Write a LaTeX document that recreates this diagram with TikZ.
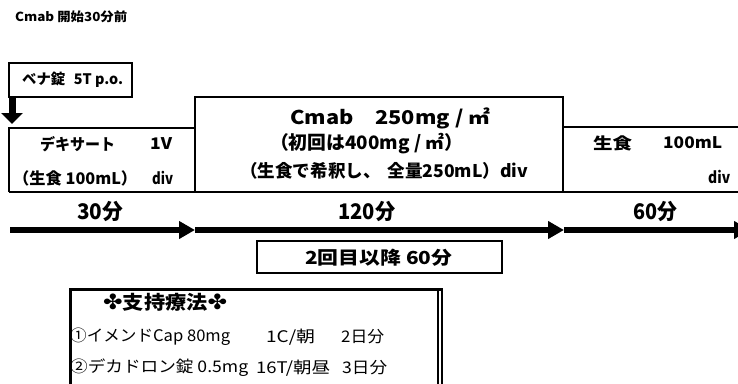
\documentclass[tikz,border=0pt]{standalone}
\usepackage{fontspec}
\setmainfont{Noto Sans CJK JP}
\newfontfamily\symfont{DejaVu Sans}
\usetikzlibrary{arrows.meta}
\newcommand{\fitw}[2]{\resizebox{#1pt}{\height}{#2}}
\newcommand{\crs}{{\symfont\fontsize{21}{21}\selectfont ✤}}
\tikzset{
  txt/.style={inner sep=0pt, font=\bfseries\fontsize{#1}{#1}\selectfont},
  txt/.default=16,
  rtxt/.style={inner sep=0pt, anchor=west, font=\fontsize{16}{16}\selectfont},
  frame/.style={line width=2.6pt, line join=miter},
  tline/.style={line width=5.5pt, -{Triangle[length=16pt,width=17pt]}},
}
\begin{document}
\begin{tikzpicture}[x=1pt,y=-1pt]
\useasboundingbox (0,0) rectangle (738,383);
% header
\node[txt=12.5, anchor=west] (hdr) at (15,17) {\fitw{112}{Cmab 開始30分前}};
% bena box
\draw[frame] (9,63) rectangle (132,97);
\node[txt=14.5, anchor=west] (bena) at (22,80) {\fitw{101}{ベナ錠\hspace{0.6em}5T p.o.}};
\coordinate (ba) at (12,98);
\coordinate (bb) at (12,124);
\draw[line width=7pt, -{Triangle[length=11pt,width=21pt]}] (ba) -- (bb);
% stepped frame
\coordinate (p1) at (9,128);
\coordinate (p2) at (195,128);
\coordinate (p3) at (195,97);
\coordinate (p4) at (563,97);
\coordinate (p5) at (563,127);
\coordinate (p6) at (738,127);
\coordinate (q1) at (9,192);
\coordinate (q2) at (195,192);
\coordinate (q3) at (563,192);
\coordinate (q4) at (738,192);
\draw[frame] (q1) -- (p1) -- (p2);
\draw[frame] (q2) -- (p3) -- (p4) -- (q3);
\draw[frame] (p5) -- (p6);
\draw[frame] (q1) -- (q4);
% left box texts
\node[txt, anchor=west] (dx) at (40,144) {\fitw{75}{デキサート}};
\node[txt, anchor=west] (dxv) at (150,144) {\fitw{22}{1V}};
\node[txt, anchor=west] (dxs) at (13,178) {\fitw{124}{（生食 100mL）}};
\node[txt, anchor=west] (dxd) at (152,178) {\fitw{21}{div}};
% middle texts
\node[txt=19, anchor=west] (c1) at (290,118) {\fitw{200}{Cmab\hspace{1em}250mg / ㎡}};
\node[txt=18.5, anchor=west] (c2) at (270,144) {\fitw{193}{（初回は400mg / ㎡）}};
\node[txt=17.5, anchor=west] (c3) at (240,171) {\fitw{288}{（生食で希釈し、\hspace{0.4em}全量250mL）div}};
% right texts
\node[txt, anchor=west] (s1) at (593,143) {\fitw{39}{生食}};
\node[txt, anchor=west] (s2) at (663,143) {\fitw{59}{100mL}};
\node[txt, anchor=west] (s3) at (708,177) {\fitw{22}{div}};
% timeline
\coordinate (t0) at (10,230);
\coordinate (t1) at (195,230);
\coordinate (t2) at (564,230);
\coordinate (t3) at (750,230);
\draw[tline] (t0) -- (t1);
\draw[tline] (t1) -- (t2);
\draw[tline] (t2) -- (t3);
\node[txt=21.5, anchor=west] (l1) at (77,211) {\fitw{46}{30分}};
\node[txt=21.5, anchor=west] (l2) at (338,211) {\fitw{57}{120分}};
\node[txt=21.5, anchor=west] (l3) at (633,211) {\fitw{44}{60分}};
% 2nd time box
\draw[line width=2.4pt] (257,241) rectangle (502,273);
\node[txt=18, anchor=west] (sec) at (305,258) {\fitw{147}{2回目以降 60分}};
% support box
\draw[line width=3pt] (70,390) -- (70,289) -- (443,289);
\draw[line width=1.4pt] (438,289) -- (438,390);
\draw[line width=1.4pt] (442,289) -- (442,390);
\node[txt=19, anchor=west] (st) at (103,302) {\fitw{124}{\crs 支持療法\crs}};
\node[rtxt] (a1) at (70,337) {\fitw{160}{①イメンドCap 80mg}};
\node[rtxt] (a2) at (266,337) {\fitw{49}{1C/朝}};
\node[rtxt] (a3) at (341,337) {\fitw{43}{2日分}};
\node[rtxt] (b1) at (70,368) {\fitw{178}{②デカドロン錠 0.5mg}};
\node[rtxt] (b2) at (256,368) {\fitw{74}{16T/朝昼}};
\node[rtxt] (b3) at (342,368) {\fitw{45}{3日分}};
\end{tikzpicture}
\end{document}
